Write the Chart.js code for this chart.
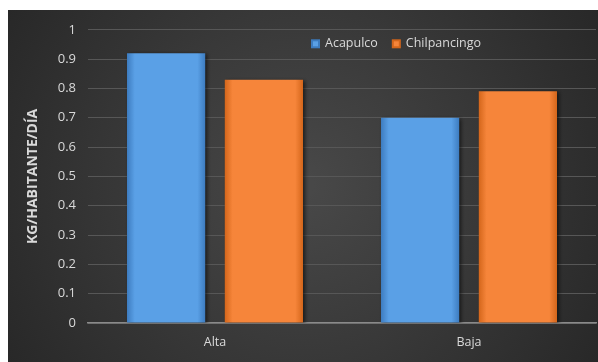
<!DOCTYPE html>
<html>
<head>
<meta charset="utf-8">
<script src="https://cdn.jsdelivr.net/npm/chart.js@4.4.1/dist/chart.umd.min.js"></script>
<style>
  html, body { margin: 0; padding: 0; background: #ffffff; }
  #wrap { position: absolute; left: 8px; top: 10px; width: 590px; height: 352px; }
</style>
</head>
<body>
<div id="wrap"><canvas id="c"></canvas></div>
<script>
const categories = ['Alta', 'Baja'];
const acapulco = [0.92, 0.70];
const chilpancingo = [0.83, 0.79];
const seriesNames = ['Acapulco', 'Chilpancingo'];

const fontFam = "'Open Sans', 'Noto Sans', sans-serif";
const textCol = '#d9d9d9';

// colours for each series: [edge, centre]
const palette = [
    ['#3d7cc0', '#5aa0e6'],
    ['#d4661b', '#f6853a']
];

function barFill(ctx) {
    const chart = ctx.chart;
    const pal = palette[ctx.datasetIndex];
    const meta = chart.getDatasetMeta(ctx.datasetIndex);
    const el = meta.data[ctx.dataIndex];
    if (!el || !el.width) return pal[1];
    const x0 = el.x - el.width / 2, x1 = el.x + el.width / 2;
    const g = chart.ctx.createLinearGradient(x0, 0, x1, 0);
    g.addColorStop(0, pal[0]);
    g.addColorStop(0.1, pal[1]);
    g.addColorStop(0.9, pal[1]);
    g.addColorStop(1, pal[0]);
    return g;
}

const bgPlugin = {
    id: 'bg',
    beforeDraw(chart) {
        const c = chart.ctx, w = chart.width, h = chart.height;
        const g = c.createRadialGradient(w * 0.5, h * 0.5, 10, w * 0.5, h * 0.5, w * 0.6);
        g.addColorStop(0, '#484848');
        g.addColorStop(1, '#272727');
        c.save();
        c.fillStyle = g;
        c.fillRect(0, 0, w, h);
        c.restore();
    }
};

const shadowPlugin = {
    id: 'shadow',
    beforeDatasetsDraw(chart) {
        const c = chart.ctx;
        c.save();
        c.shadowColor = 'rgba(0,0,0,0.6)';
        c.shadowBlur = 4;
        c.shadowOffsetX = 2;
        c.shadowOffsetY = 1;
    },
    afterDatasetsDraw(chart) {
        chart.ctx.restore();
    }
};

// legend sits inside the plot, right of centre
const legendPlugin = {
    id: 'inlineLegend',
    afterDraw(chart) {
        const c = chart.ctx;
        const area = chart.chartArea;
        let x = area.left + 223;
        const y = area.top + 14;
        c.save();
        c.font = '12.5px ' + fontFam;
        c.textBaseline = 'middle';
        chart.data.datasets.forEach((ds, i) => {
            c.fillStyle = palette[i][0];
            c.fillRect(x, y - 4.5, 9, 9);
            c.fillStyle = palette[i][1];
            c.fillRect(x + 2, y - 2.5, 5, 5);
            c.fillStyle = textCol;
            c.fillText(ds.label, x + 14, y);
            x += 14 + c.measureText(ds.label).width + 14;
        });
        c.restore();
    }
};

const barOpts = { backgroundColor: barFill, borderWidth: 0, categoryPercentage: 0.77, barPercentage: 0.80 };

const chart = new Chart(document.getElementById('c'), {
    type: 'bar',
    data: {
        labels: categories,
        datasets: [
            Object.assign({ label: seriesNames[0], data: acapulco }, barOpts),
            Object.assign({ label: seriesNames[1], data: chilpancingo }, barOpts)
        ]
    },
    options: {
        responsive: true,
        maintainAspectRatio: false,
        animation: false,
        layout: { padding: { top: 16, right: 2, bottom: 0, left: 0 } },
        plugins: {
            legend: { display: false },
            tooltip: { enabled: false },
            colors: { enabled: false }
        },
        scales: {
            x: {
                grid: { display: false, drawTicks: false },
                border: { display: true, color: '#8a8a8a', width: 1.5 },
                ticks: { color: textCol, font: { family: fontFam, size: 12.5 }, padding: 12 },
                afterFit(scale) { scale.height = 39; }
            },
            y: {
                min: 0,
                max: 1,
                ticks: {
                    stepSize: 0.1,
                    color: textCol,
                    padding: 12,
                    font: { family: fontFam, size: 13 },
                    callback: v => String(+v.toFixed(1))
                },
                grid: { color: '#575757', drawTicks: false, lineWidth: 1 },
                border: { display: false },
                title: {
                    display: true,
                    text: 'KG/HABITANTE/DÍA',
                    color: textCol,
                    font: { family: fontFam, size: 14, weight: 'bold' },
                    padding: { top: 17, bottom: 0 }
                },
                afterFit(scale) { scale.width = 80; }
            }
        }
    },
    plugins: [bgPlugin, shadowPlugin, legendPlugin]
});
// second pass so the bar gradients know each bar's width
chart.update();
</script>
</body>
</html>
